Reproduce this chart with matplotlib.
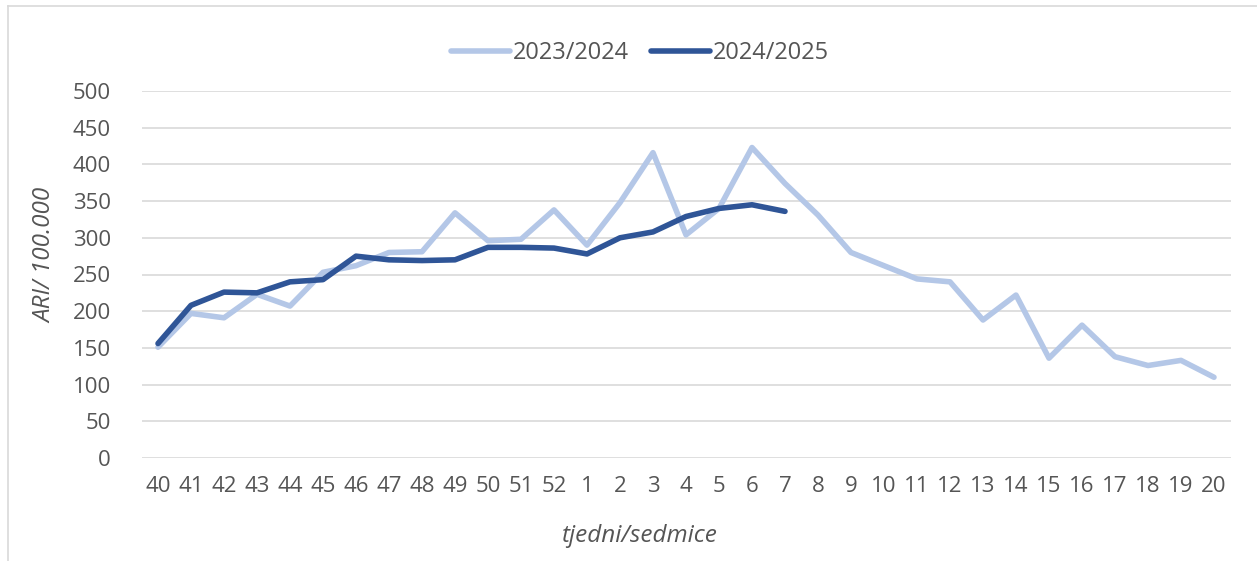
import matplotlib
matplotlib.use("Agg")
import matplotlib.pyplot as plt
from matplotlib.lines import Line2D

weeks = ["40", "41", "42", "43", "44", "45", "46", "47", "48", "49", "50", "51", "52",
         "1", "2", "3", "4", "5", "6", "7", "8", "9", "10", "11", "12", "13", "14",
         "15", "16", "17", "18", "19", "20"]

season_2023 = [151, 197, 191, 223, 207, 253, 262, 280, 281, 334, 296, 298, 338,
               290, 348, 416, 304, 340, 423, 374, 331, 280, 262, 244, 240, 188, 222,
               136, 181, 138, 126, 133, 110]

season_2024 = [156, 208, 226, 225, 240, 243, 275, 270, 269, 270, 287, 287, 286,
               278, 300, 308, 329, 340, 345, 336]

plt.rcParams["font.family"] = ["Open Sans", "DejaVu Sans"]
text_color = "#555555"

fig = plt.figure(figsize=(12.57, 5.61), dpi=100)
ax = fig.add_axes([141.5 / 1257, 103 / 561, 1089 / 1257, 367 / 561])

x1 = list(range(len(season_2023)))
x2 = list(range(len(season_2024)))
ax.plot(x1, season_2023, color="#B4C7E7", lw=4, solid_capstyle="round",
        solid_joinstyle="round", label="2023/2024")
ax.plot(x2, season_2024, color="#2F5597", lw=4, solid_capstyle="round",
        solid_joinstyle="round", label="2024/2025")

ax.set_xlim(-0.5, len(weeks) - 0.5)
ax.set_ylim(0, 500)
ax.set_yticks(range(0, 501, 50))
ax.set_xticks(x1)
ax.set_xticklabels(weeks)
ax.grid(axis="y", color="#D9D9D9", lw=1.2)
ax.set_axisbelow(True)
for s in ax.spines.values():
    s.set_visible(False)
ax.tick_params(axis="both", length=0, labelsize=16, colors=text_color)
ax.tick_params(axis="y", pad=22)
ax.tick_params(axis="x", pad=13)

fig.text(45 / 1257, 1 - 255 / 561, "ARI/ 100.000", rotation=90, style="italic",
         fontsize=17.5, color=text_color, ha="center", va="center")
fig.text(640 / 1257, 1 - 536 / 561, "tjedni/sedmice", style="italic",
         fontsize=17.5, color=text_color, ha="center", va="center")

leg = fig.legend(loc="center", bbox_to_anchor=(640 / 1257, 1 - 53 / 561), ncol=2,
                 frameon=False, fontsize=17, handlelength=2.5, handletextpad=0.15,
                 columnspacing=0.9)
for t in leg.get_texts():
    t.set_color(text_color)

# chart border
fig.add_artist(Line2D([8 / 1257, 8 / 1257], [0, 1 - 6 / 561], color="#D9D9D9", lw=1.2,
                      transform=fig.transFigure))
fig.add_artist(Line2D([8 / 1257, 1], [1 - 6 / 561, 1 - 6 / 561], color="#D9D9D9", lw=1.2,
                      transform=fig.transFigure))

fig.savefig("out.png", dpi=100, facecolor="white")
